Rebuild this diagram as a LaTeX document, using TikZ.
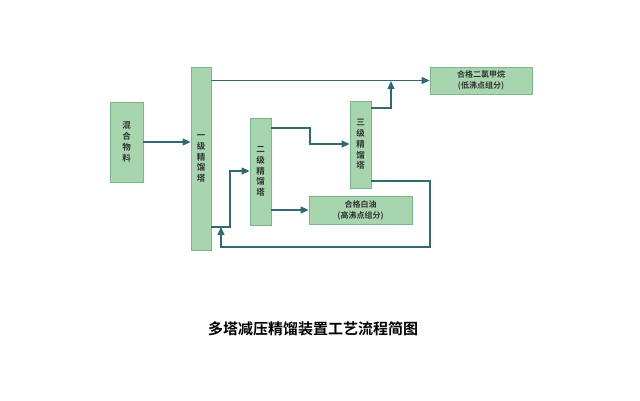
\documentclass[tikz,border=0pt]{standalone}
\usepackage{fontspec}
\setmainfont{Noto Sans CJK SC}
\newfontfamily\cjkbold{Noto Sans CJK SC Bold}
\usetikzlibrary{arrows.meta,calc}
\definecolor{boxfill}{HTML}{A6D5AE}
\definecolor{boxline}{HTML}{7DB68A}
\definecolor{flowc}{HTML}{2E6A70}
\tikzset{
  unit/.style={draw=boxline, fill=boxfill, line width=0.8pt, inner sep=0pt, align=center,
    font=\cjkbold\fontsize{8.5}{10.8}\selectfont, text=black!80},
  flow/.style={draw=flowc, line width=1.1pt, -{Triangle[length=8pt,width=7pt]}},
}
\begin{document}
\begin{tikzpicture}[x=1pt,y=-1pt]
\useasboundingbox (0,0) rectangle (640,400);
\fill[white] (0,0) rectangle (640,400);
\node[unit, minimum width=33pt, minimum height=80pt] (feed) at (126.5,142) {混\\合\\物\\料};
\node[unit, minimum width=20pt, minimum height=183pt] (c1) at (201,158.5) {一\\级\\精\\馏\\塔};
\node[unit, minimum width=21pt, minimum height=107pt] (c2) at (260.5,171.5) {二\\级\\精\\馏\\塔};
\node[unit, minimum width=21pt, minimum height=87pt] (c3) at (360.5,144.5) {三\\级\\精\\馏\\塔};
\node[unit, minimum width=102pt, minimum height=27pt, font=\cjkbold\fontsize{8}{11}\selectfont] (p1) at (481,80.5) {合格二氯甲烷\\(低沸点组分)};
\node[unit, minimum width=103pt, minimum height=28pt, font=\cjkbold\fontsize{8}{11}\selectfont] (p2) at (360.5,210) {合格白油\\(高沸点组分)};
\coordinate (j1) at (391,81);
\coordinate (r1) at (221,227);
% connectors
\draw[flow] (feed.east) -- (c1.west |- feed.east);
\draw[flow] (c1.east |- p1.west) -- (p1.west);
\draw[flow] (c1.east |- 0,227) -- (230,227) |- (c2.west |- 0,171);
\draw[flow] (c2.east |- 0,128) -- (310,128) |- (c3.west |- 0,144);
\draw[flow] (c2.east |- 0,210) -- (p2.west |- 0,210);
\draw[flow] (c3.east |- 0,108) -| (j1);
\draw[flow] (c3.east |- 0,181) -- (430,181) -- (430,247) -- (221,247) -- (r1);
\node[font=\cjkbold\fontsize{15}{15}\selectfont] (title) at (313,329) {多塔减压精馏装置工艺流程简图};
\end{tikzpicture}
\end{document}
